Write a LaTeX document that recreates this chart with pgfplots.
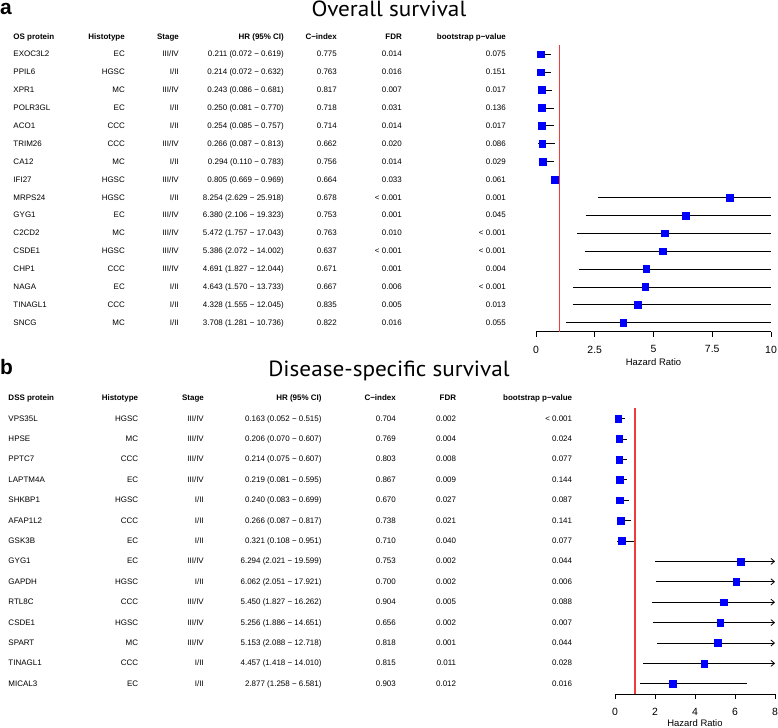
\documentclass[border=0pt]{standalone}
\usepackage{fontspec}
\setmainfont{Liberation Sans}
\newfontfamily\titlefont[FakeStretch=1.06]{PT Sans}
\usepackage{pgfplots}
\pgfplotsset{compat=1.18}
\usepackage{pgfplotstable}
\usetikzlibrary{arrows.meta}

\definecolor{hrref}{RGB}{238,60,60}
\definecolor{sqblue}{RGB}{0,0,255}

% Overall survival: row, HR, lower, upper
\pgfplotstableread{
row hr lo hi
1 0.211 0.072 0.619
2 0.214 0.072 0.632
3 0.243 0.086 0.681
4 0.250 0.081 0.770
5 0.254 0.085 0.757
6 0.266 0.087 0.813
7 0.294 0.110 0.783
8 0.805 0.669 0.969
9 8.254 2.629 25.918
10 6.380 2.106 19.323
11 5.472 1.757 17.043
12 5.386 2.072 14.002
13 4.691 1.827 12.044
14 4.643 1.570 13.733
15 4.328 1.555 12.045
16 3.708 1.281 10.736
}\osdata

% Disease-specific survival
\pgfplotstableread{
row hr lo hi
1 0.163 0.052 0.515
2 0.206 0.070 0.607
3 0.214 0.075 0.607
4 0.219 0.081 0.595
5 0.240 0.083 0.699
6 0.266 0.087 0.817
7 0.321 0.108 0.951
8 6.294 2.021 19.599
9 6.062 2.051 17.921
10 5.450 1.827 16.262
11 5.256 1.886 14.651
12 5.153 2.088 12.718
13 4.457 1.418 14.010
14 2.877 1.258 6.581
}\dssdata

% reference line at HR = 1 (a thin band centred on 1)
\pgfplotstableread{
x y
0.96 -0.5
1.04 -0.5
1.04 -16.5
0.96 -16.5
}\osreftab
\pgfplotstableread{
x y
1 -0.5
1 -14.5
}\dssreftab

\tikzset{tt/.style={inner sep=0pt, font=\fontsize{8}{9.6}\selectfont},
         th/.style={inner sep=0pt, font=\fontsize{8}{9.6}\selectfont\bfseries}}

\newcommand\rowA[8]{%
  \pgfmathsetmacro\yy{728-(54+17.9*(#1-1))-2.9}%
  \node[tt,anchor=base west] at (13.3,\yy) {#2};%
  \node[tt,anchor=base east] at (125,\yy) {#3};%
  \node[tt,anchor=base east] at (179,\yy) {#4};%
  \node[tt,anchor=base east] at (284,\yy) {#5};%
  \node[tt,anchor=base east] at (337,\yy) {#6};%
  \node[tt,anchor=base east] at (402,\yy) {#7};%
  \node[tt,anchor=base east] at (506,\yy) {#8};%
}
\newcommand\rowB[8]{%
  \pgfmathsetmacro\yy{728-(418.3+20.4*(#1-1))-2.9}%
  \node[tt,anchor=base west] at (8.3,\yy) {#2};%
  \node[tt,anchor=base east] at (138.3,\yy) {#3};%
  \node[tt,anchor=base east] at (204,\yy) {#4};%
  \node[tt,anchor=base east] at (321.7,\yy) {#5};%
  \node[tt,anchor=base east] at (396,\yy) {#6};%
  \node[tt,anchor=base east] at (456.3,\yy) {#7};%
  \node[tt,anchor=base east] at (572.3,\yy) {#8};%
}

\pgfplotsset{
  forest/.style={
    scale only axis,
    axis x line*=bottom,
    axis y line=none,
    axis line style={-, line width=0.8pt},
    tick align=outside,
    major tick length=5bp,
    every tick/.style={black, line width=0.8pt},
    xticklabel style={font=\fontsize{10.5}{12}\selectfont, yshift=-5.5bp},
    /pgf/number format/assume math mode=true,
    xlabel style={font=\fontsize{9.5}{11}\selectfont, at={(axis description cs:0.5,0)}, anchor=center},
    clip=false,
  }
}

\begin{document}
\begin{tikzpicture}[x=1bp,y=1bp]
\path[use as bounding box] (0,0) rectangle (778,728);

% ---------- Panel b (drawn first) ----------
\node[inner sep=0pt, anchor=base west, font=\fontsize{21}{25}\selectfont\bfseries] at (0,353) {b};
\node[inner sep=0pt, anchor=base, font=\titlefont\fontsize{22}{26}\selectfont] at (389,351.3) {Disease-specific survival};

\node[th,anchor=base west] at (8.3,327.1) {DSS protein};
\node[th,anchor=base east] at (138.3,327.1) {Histotype};
\node[th,anchor=base east] at (204,327.1) {Stage};
\node[th,anchor=base east] at (321.7,327.1) {HR (95\% CI)};
\node[th,anchor=base east] at (396,327.1) {C−index};
\node[th,anchor=base east] at (456.3,327.1) {FDR};
\node[th,anchor=base east] at (572.3,327.1) {bootstrap p−value};

\rowB{1}{VPS35L}{HGSC}{III/IV}{0.163 (0.052 − 0.515)}{0.704}{0.002}{< 0.001}
\rowB{2}{HPSE}{MC}{III/IV}{0.206 (0.070 − 0.607)}{0.769}{0.004}{0.024}
\rowB{3}{PPTC7}{CCC}{III/IV}{0.214 (0.075 − 0.607)}{0.803}{0.008}{0.077}
\rowB{4}{LAPTM4A}{EC}{III/IV}{0.219 (0.081 − 0.595)}{0.867}{0.009}{0.144}
\rowB{5}{SHKBP1}{HGSC}{I/II}{0.240 (0.083 − 0.699)}{0.670}{0.027}{0.087}
\rowB{6}{AFAP1L2}{CCC}{I/II}{0.266 (0.087 − 0.817)}{0.738}{0.021}{0.141}
\rowB{7}{GSK3B}{EC}{I/II}{0.321 (0.108 − 0.951)}{0.710}{0.040}{0.077}
\rowB{8}{GYG1}{EC}{III/IV}{6.294 (2.021 − 19.599)}{0.753}{0.002}{0.044}
\rowB{9}{GAPDH}{HGSC}{I/II}{6.062 (2.051 − 17.921)}{0.700}{0.002}{0.006}
\rowB{10}{RTL8C}{CCC}{III/IV}{5.450 (1.827 − 16.262)}{0.904}{0.005}{0.088}
\rowB{11}{CSDE1}{HGSC}{III/IV}{5.256 (1.886 − 14.651)}{0.656}{0.002}{0.007}
\rowB{12}{SPART}{MC}{III/IV}{5.153 (2.088 − 12.718)}{0.818}{0.001}{0.044}
\rowB{13}{TINAGL1}{CCC}{I/II}{4.457 (1.418 − 14.010)}{0.815}{0.011}{0.028}
\rowB{14}{MICAL3}{EC}{I/II}{2.877 (1.258 − 6.581)}{0.903}{0.012}{0.016}

\begin{axis}[forest,
  at={(615bp,34bp)}, anchor=south west,
  width=160bp, height=285.6bp,
  xmin=0, xmax=8, ymin=-14.5, ymax=-0.5,
  xtick={0,2,4,6,8}, xticklabels={0,2,4,6,8},
  xlabel={Hazard Ratio}, xlabel style={yshift=-28.7bp},
]
\addplot[black, line width=0.8pt, quiver={u={\thisrow{hi}-\thisrow{lo}}, v=0}, -,
  restrict expr to domain={\thisrow{hi}}{0:8}]
  table[x=lo, y expr=-\thisrow{row}] {\dssdata};
\addplot[black, line width=0.8pt, quiver={u={8-\thisrow{lo}}, v=0}, -{Straight Barb[length=3.5bp,width=6bp]},
  restrict expr to domain={\thisrow{hi}}{8:1000}]
  table[x=lo, y expr=-\thisrow{row}] {\dssdata};
\addplot[color=hrref, no marks, line width=1.3pt] table[x=x, y=y] {\dssreftab};
\addplot[only marks, mark=square*, mark size=3.4bp, mark options={draw=sqblue, fill=sqblue}]
  table[x=hr, y expr=-\thisrow{row}] {\dssdata};
\end{axis}

% ---------- Panel a ----------
\node[inner sep=0pt, anchor=base west, font=\fontsize{21}{25}\selectfont\bfseries] at (0,713) {a};
\node[inner sep=0pt, anchor=base, font=\titlefont\fontsize{22}{26}\selectfont] at (389,711.3) {Overall survival};

\node[th,anchor=base west] at (13.3,688.8) {OS protein};
\node[th,anchor=base east] at (125,688.8) {Histotype};
\node[th,anchor=base east] at (179,688.8) {Stage};
\node[th,anchor=base east] at (284,688.8) {HR (95\% CI)};
\node[th,anchor=base east] at (337,688.8) {C−index};
\node[th,anchor=base east] at (402,688.8) {FDR};
\node[th,anchor=base east] at (506,688.8) {bootstrap p−value};

\rowA{1}{EXOC3L2}{EC}{III/IV}{0.211 (0.072 − 0.619)}{0.775}{0.014}{0.075}
\rowA{2}{PPIL6}{HGSC}{I/II}{0.214 (0.072 − 0.632)}{0.763}{0.016}{0.151}
\rowA{3}{XPR1}{MC}{III/IV}{0.243 (0.086 − 0.681)}{0.817}{0.007}{0.017}
\rowA{4}{POLR3GL}{EC}{I/II}{0.250 (0.081 − 0.770)}{0.718}{0.031}{0.136}
\rowA{5}{ACO1}{CCC}{I/II}{0.254 (0.085 − 0.757)}{0.714}{0.014}{0.017}
\rowA{6}{TRIM26}{CCC}{III/IV}{0.266 (0.087 − 0.813)}{0.662}{0.020}{0.086}
\rowA{7}{CA12}{MC}{I/II}{0.294 (0.110 − 0.783)}{0.756}{0.014}{0.029}
\rowA{8}{IFI27}{HGSC}{III/IV}{0.805 (0.669 − 0.969)}{0.664}{0.033}{0.061}
\rowA{9}{MRPS24}{HGSC}{I/II}{8.254 (2.629 − 25.918)}{0.678}{< 0.001}{0.001}
\rowA{10}{GYG1}{EC}{III/IV}{6.380 (2.106 − 19.323)}{0.753}{0.001}{0.045}
\rowA{11}{C2CD2}{MC}{III/IV}{5.472 (1.757 − 17.043)}{0.763}{0.010}{< 0.001}
\rowA{12}{CSDE1}{HGSC}{III/IV}{5.386 (2.072 − 14.002)}{0.637}{< 0.001}{< 0.001}
\rowA{13}{CHP1}{CCC}{III/IV}{4.691 (1.827 − 12.044)}{0.671}{0.001}{0.004}
\rowA{14}{NAGA}{EC}{I/II}{4.643 (1.570 − 13.733)}{0.667}{0.006}{< 0.001}
\rowA{15}{TINAGL1}{CCC}{I/II}{4.328 (1.555 − 12.045)}{0.835}{0.005}{0.013}
\rowA{16}{SNCG}{MC}{I/II}{3.708 (1.281 − 10.736)}{0.822}{0.016}{0.055}

\begin{axis}[forest,
  at={(536bp,396.3bp)}, anchor=south west,
  width=235bp, height=286.4bp,
  xmin=0, xmax=10, ymin=-16.5, ymax=-0.5,
  xtick={0,2.5,5,7.5,10}, xticklabels={0,2.5,5,7.5,10},
  xlabel={Hazard Ratio}, xlabel style={yshift=-30.3bp},
]
\addplot[black, line width=0.8pt, quiver={u={min(\thisrow{hi},10)-\thisrow{lo}}, v=0}, -]
  table[x=lo, y expr=-\thisrow{row}] {\osdata};
\addplot[fill=hrref, draw=none, no marks, forget plot] table[x=x, y=y] {\osreftab} -- cycle;
\addplot[only marks, mark=square*, mark size=3.4bp, mark options={draw=sqblue, fill=sqblue}]
  table[x=hr, y expr=-\thisrow{row}] {\osdata};
\end{axis}
\end{tikzpicture}
\end{document}
